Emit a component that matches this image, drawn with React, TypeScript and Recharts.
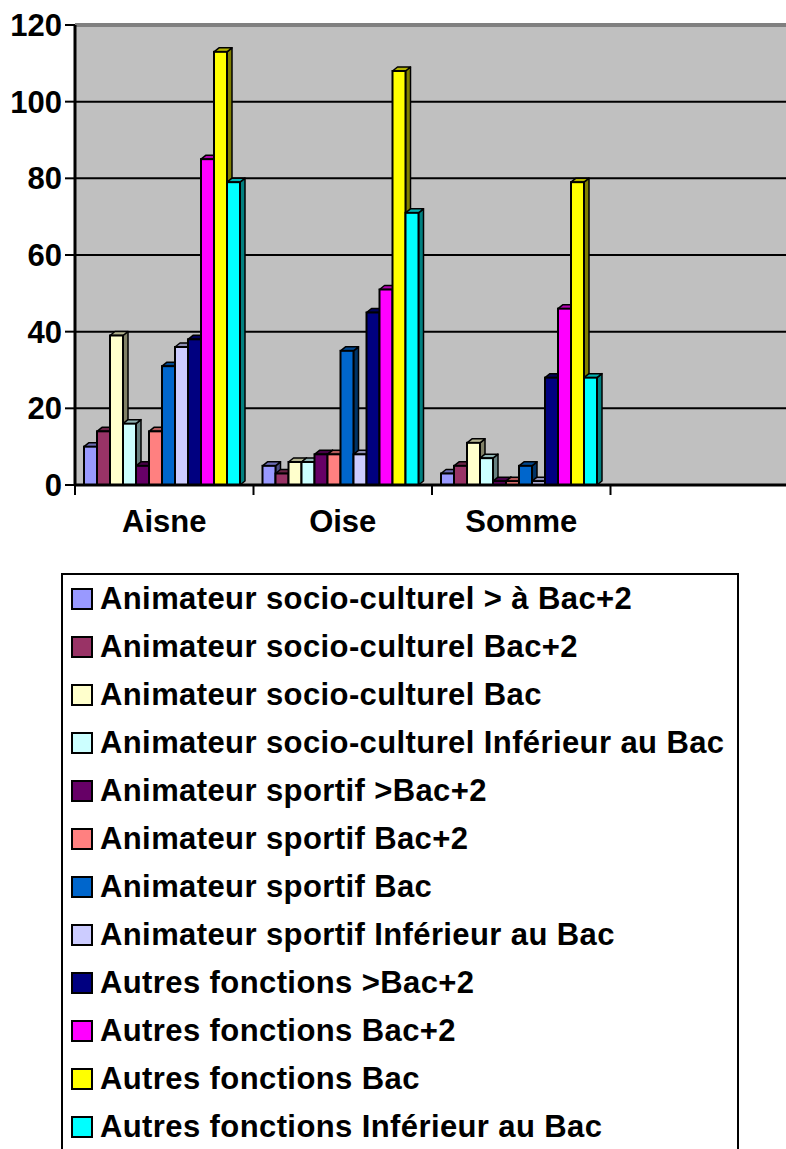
import React from 'react';
import { BarChart, Bar, XAxis, YAxis, CartesianGrid, Legend, ReferenceLine } from 'recharts';

const CATEGORIES = ['Aisne', 'Oise', 'Somme', ''];

const SERIES_NAMES = [
  'Animateur socio-culturel > à Bac+2',
  'Animateur socio-culturel Bac+2',
  'Animateur socio-culturel Bac',
  'Animateur socio-culturel Inférieur au Bac',
  'Animateur sportif >Bac+2',
  'Animateur sportif Bac+2',
  'Animateur sportif Bac',
  'Animateur sportif Inférieur au Bac',
  'Autres fonctions >Bac+2',
  'Autres fonctions Bac+2',
  'Autres fonctions Bac',
  'Autres fonctions Inférieur au Bac',
];

const SERIES_COLORS = [
  '#9999FF', '#993366', '#FFFFCC', '#CCFFFF', '#660066', '#FF8080',
  '#0066CC', '#CCCCFF', '#000080', '#FF00FF', '#FFFF00', '#00FFFF',
];

const AISNE = [10, 14, 39, 16, 5, 14, 31, 36, 38, 85, 113, 79];
const OISE = [5, 3, 6, 6, 8, 8, 35, 8, 45, 51, 108, 71];
const SOMME = [3, 5, 11, 7, 1, 1, 5, 1, 28, 46, 79, 28];
const FOURTH = [null, null, null, null, null, null, null, null, null, null, null, null];

const VALUES_BY_CATEGORY = [AISNE, OISE, SOMME, FOURTH];
const Y_TICKS = [0, 20, 40, 60, 80, 100, 120];

const data = CATEGORIES.map((cat, ci) => {
  const row: any = { cat };
  SERIES_NAMES.forEach((_, si) => {
    row['s' + si] = VALUES_BY_CATEGORY[ci][si];
  });
  return row;
});

const FONT = '"Liberation Sans", Arial, Helvetica, sans-serif';
const CHART_W = 800;
const CHART_H = 1149;
const MARGIN = { top: 25, right: 11, bottom: 614, left: 0 };
const Y_AXIS_W = 75;
const HALF_BAND = (CHART_W - MARGIN.right - Y_AXIS_W) / CATEGORIES.length / 2;
const DX = 5;
const DY = 4;

function shade(hex: string, f: number) {
  const n = parseInt(hex.slice(1), 16);
  const r = Math.round(((n >> 16) & 255) * f);
  const g = Math.round(((n >> 8) & 255) * f);
  const b = Math.round((n & 255) * f);
  return `rgb(${r},${g},${b})`;
}

const Bar3D = (props: any) => {
  const { x, y, width, height, fill, value } = props;
  if (value === null || value === undefined || height === undefined || height <= 0) return null;
  const w = width;
  const h = height;
  return (
    <g>
      <polygon
        points={`${x + w},${y} ${x + w + DX},${y - DY} ${x + w + DX},${y + h - DY} ${x + w},${y + h}`}
        fill={shade(fill, 0.5)}
        stroke="#000"
        strokeWidth={1.5}
        strokeLinejoin="round"
      />
      <polygon
        points={`${x},${y} ${x + DX},${y - DY} ${x + w + DX},${y - DY} ${x + w},${y}`}
        fill={shade(fill, 0.7)}
        stroke="#000"
        strokeWidth={1.5}
        strokeLinejoin="round"
      />
      <rect x={x} y={y} width={w} height={h} fill={fill} stroke="#000" strokeWidth={2} />
    </g>
  );
};

const XTick = (props: any) => {
  const { x, y, payload, index } = props;
  const axisY = y - 10;
  const isLast = index === CATEGORIES.length - 1;
  return (
    <g>
      <line x1={x - HALF_BAND} y1={axisY} x2={x - HALF_BAND} y2={axisY + 10} stroke="#000" strokeWidth={2} />
      {isLast && (
        <line x1={x + HALF_BAND} y1={axisY} x2={x + HALF_BAND} y2={axisY + 10} stroke="#000" strokeWidth={2} />
      )}
      <text
        x={x}
        y={y + 37}
        textAnchor="middle"
        fontFamily={FONT}
        fontWeight="bold"
        fontSize={31}
        fill="#000"
      >
        {payload.value}
      </text>
    </g>
  );
};

const renderLegend = (props: any) => {
  const payload = [...(props.payload || [])].sort((a: any, b: any) => {
    const ia = parseInt(String(a.dataKey).slice(1), 10);
    const ib = parseInt(String(b.dataKey).slice(1), 10);
    return ia - ib;
  });
  return (
    <div
      style={{
        border: '2px solid #000',
        width: 678,
        height: 640,
        boxSizing: 'border-box',
        background: '#fff',
        paddingTop: 0,
      }}
    >
      {payload.map((p: any) => (
        <div
          key={p.dataKey}
          style={{ height: 48, display: 'flex', alignItems: 'center', paddingLeft: 8 }}
        >
          <div
            style={{
              width: 18,
              height: 18,
              border: '2px solid #000',
              background: p.color,
              marginRight: 7,
              flex: '0 0 auto',
            }}
          />
          <span
            style={{
              fontFamily: FONT,
              fontWeight: 'bold',
              fontSize: 31,
              letterSpacing: 0.4,
              color: '#000',
              whiteSpace: 'nowrap',
              lineHeight: '48px',
            }}
          >
            {p.value}
          </span>
        </div>
      ))}
    </div>
  );
};

export default function App() {
  return (
    <div
      style={{
        position: 'absolute',
        left: 0,
        top: 0,
        width: 786,
        height: 1149,
        overflow: 'hidden',
        background: '#fff',
        fontFamily: FONT,
      }}
    >
      <BarChart
        width={CHART_W}
        height={CHART_H}
        data={data}
        margin={MARGIN}
        barCategoryGap={9}
        barGap={0}
      >
        <CartesianGrid
          vertical={false}
          horizontal={true}
          stroke="#000"
          strokeWidth={2}
          fill="#C0C0C0"
          fillOpacity={1}
        />
        <XAxis
          dataKey="cat"
          interval={0}
          height={50}
          tickLine={false}
          tickSize={10}
          tickMargin={0}
          axisLine={{ stroke: '#000', strokeWidth: 3 }}
          tick={<XTick />}
        />
        <YAxis
          width={Y_AXIS_W}
          domain={[0, 120]}
          ticks={Y_TICKS}
          interval={0}
          tickSize={10}
          tickMargin={3}
          axisLine={{ stroke: '#000', strokeWidth: 3 }}
          tickLine={{ stroke: '#000', strokeWidth: 2 }}
          tick={{ fill: '#000', fontSize: 31, fontWeight: 'bold', fontFamily: FONT }}
        />
        <ReferenceLine y={120} stroke="#808080" strokeWidth={4} />
        {SERIES_NAMES.map((name, i) => (
          <Bar
            key={name}
            dataKey={'s' + i}
            name={name}
            fill={SERIES_COLORS[i]}
            shape={<Bar3D />}
            isAnimationActive={false}
          />
        ))}
        <Legend
          layout="vertical"
          align="center"
          verticalAlign="middle"
          wrapperStyle={{ left: 61, top: 573, width: 678 }}
          content={renderLegend}
        />
      </BarChart>
    </div>
  );
}
